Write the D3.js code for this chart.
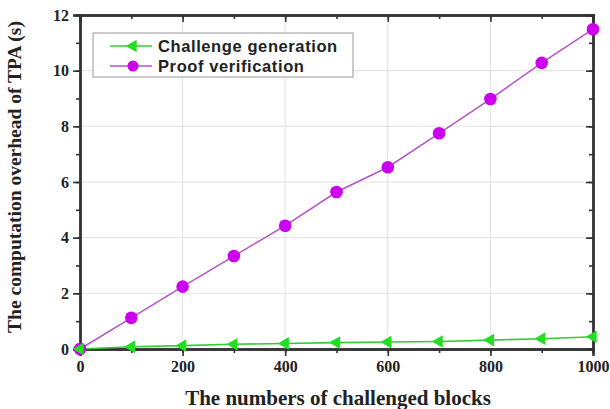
<!DOCTYPE html>
<html>
<head>
<meta charset="utf-8">
<script src="https://cdn.jsdelivr.net/npm/d3@7"></script>
<style>
  html, body { margin: 0; padding: 0; background: #fff; }
  svg { display: block; }
</style>
</head>
<body>
<svg id="chart" width="610" height="409"></svg>
<script>
// Challenged block counts (x) and TPA computation time in seconds (y)
const blocks = [0, 100, 200, 300, 400, 500, 600, 700, 800, 900, 1000];
const challengeGen = [0, 0.08, 0.12, 0.17, 0.20, 0.23, 0.25, 0.27, 0.32, 0.37, 0.44];
const proofVerify = [0, 1.12, 2.24, 3.34, 4.43, 5.64, 6.53, 7.75, 8.98, 10.28, 11.49];
const xTicks = [0, 200, 400, 600, 800, 1000];
const yTicks = [0, 2, 4, 6, 8, 10, 12];
const seriesNames = ["Challenge generation", "Proof verification"];

const svg = d3.select("#chart");
const plotL = 80, plotR = 593, plotT = 15, plotB = 349;

const x = d3.scaleLinear().domain([0, 1000]).range([plotL, plotR]);
const y = d3.scaleLinear().domain([0, 12]).range([plotB, plotT]);

const serif = "'Liberation Serif', 'Times New Roman', serif";
const sans = "'Liberation Sans', Arial, sans-serif";

// grid lines at major ticks
const grid = svg.append("g").attr("stroke", "#e2e2e2").attr("stroke-width", 1);
xTicks.slice(1, -1).forEach(v => grid.append("line")
  .attr("x1", x(v)).attr("x2", x(v)).attr("y1", plotT).attr("y2", plotB));
yTicks.slice(1, -1).forEach(v => grid.append("line")
  .attr("x1", plotL).attr("x2", plotR).attr("y1", y(v)).attr("y2", y(v)));

// axes: bottom/left ticks outside, top/right ticks inside
const minorX = d3.range(0, 1001, 100);
const minorY = d3.range(0, 13, 1);
const axisColor = "#333";

function styleAxis(g) {
  g.select(".domain").attr("stroke", axisColor).attr("stroke-width", 2.4);
  g.selectAll(".tick line").attr("stroke", axisColor).attr("stroke-width", 1.6);
  g.selectAll("text").attr("font-family", serif).attr("font-weight", "bold")
    .attr("font-size", 16).attr("fill", "#222");
}

// minor ticks
const gxMinor = svg.append("g").attr("transform", `translate(0,${plotB})`)
  .call(d3.axisBottom(x).tickValues(minorX).tickSize(4).tickFormat(""));
styleAxis(gxMinor);
const gyMinor = svg.append("g").attr("transform", `translate(${plotL},0)`)
  .call(d3.axisLeft(y).tickValues(minorY).tickSize(4).tickFormat(""));
styleAxis(gyMinor);
const gtMinor = svg.append("g").attr("transform", `translate(0,${plotT})`)
  .call(d3.axisBottom(x).tickValues(minorX).tickSize(4).tickFormat(""));
styleAxis(gtMinor);
const grMinor = svg.append("g").attr("transform", `translate(${plotR},0)`)
  .call(d3.axisLeft(y).tickValues(minorY).tickSize(4).tickFormat(""));
styleAxis(grMinor);

// major ticks with labels
const gx = svg.append("g").attr("transform", `translate(0,${plotB})`)
  .call(d3.axisBottom(x).tickValues(xTicks).tickSize(7).tickPadding(5).tickFormat(d3.format("d")));
styleAxis(gx);
const gy = svg.append("g").attr("transform", `translate(${plotL},0)`)
  .call(d3.axisLeft(y).tickValues(yTicks).tickSize(7).tickPadding(4).tickFormat(d3.format("d")));
styleAxis(gy);
const gt = svg.append("g").attr("transform", `translate(0,${plotT})`)
  .call(d3.axisBottom(x).tickValues(xTicks).tickSize(7).tickFormat(""));
styleAxis(gt);
const gr = svg.append("g").attr("transform", `translate(${plotR},0)`)
  .call(d3.axisLeft(y).tickValues(yTicks).tickSize(7).tickFormat(""));
styleAxis(gr);

// series
const lineGen = d3.line().x((d, i) => x(blocks[i])).y(d => y(d));
const green = "#22dd22", greenLine = "#33cc33";
const purple = "#cc00ee", purpleLine = "#b455c8";

svg.append("path").datum(proofVerify).attr("d", lineGen)
  .attr("fill", "none").attr("stroke", purpleLine).attr("stroke-width", 1.5);
svg.append("path").datum(challengeGen).attr("d", lineGen)
  .attr("fill", "none").attr("stroke", greenLine).attr("stroke-width", 1.6);

const triLeft = d3.symbol().type(d3.symbolTriangle).size(70);

svg.append("g").selectAll("circle").data(proofVerify).join("circle")
  .attr("cx", (d, i) => x(blocks[i])).attr("cy", d => y(d))
  .attr("r", 6.3).attr("fill", purple);

svg.append("g").selectAll("path").data(challengeGen).join("path")
  .attr("d", triLeft)
  .attr("transform", (d, i) => `translate(${x(blocks[i])},${y(d)}) rotate(-90)`)
  .attr("fill", green);

// legend
const legend = svg.append("g");
legend.append("rect").attr("x", 93).attr("y", 33).attr("width", 260).attr("height", 44)
  .attr("fill", "#fff").attr("stroke", "#999").attr("stroke-width", 1);
const rows = [
  { name: seriesNames[0], color: greenLine, fill: green, marker: "tri", yy: 46 },
  { name: seriesNames[1], color: purpleLine, fill: purple, marker: "circ", yy: 66 }
];
rows.forEach(r => {
  legend.append("line").attr("x1", 110).attr("x2", 152).attr("y1", r.yy).attr("y2", r.yy)
    .attr("stroke", r.color).attr("stroke-width", 1.5);
  if (r.marker === "tri") {
    legend.append("path").attr("d", triLeft)
      .attr("transform", `translate(133,${r.yy}) rotate(-90)`).attr("fill", r.fill);
  } else {
    legend.append("circle").attr("cx", 133).attr("cy", r.yy).attr("r", 5.5).attr("fill", r.fill);
  }
  legend.append("text").attr("x", 158).attr("y", r.yy + 6)
    .attr("font-family", sans).attr("font-weight", "bold").attr("font-size", 16.5)
    .attr("letter-spacing", 0.6).attr("fill", "#222").text(r.name);
});

// axis titles
svg.append("text").attr("x", 338).attr("y", 405)
  .attr("text-anchor", "middle").attr("font-family", serif).attr("font-weight", "bold")
  .attr("font-size", 21).attr("fill", "#222").text("The numbers of challenged blocks");
svg.append("text").attr("transform", `translate(21,177) rotate(-90)`)
  .attr("text-anchor", "middle").attr("font-family", serif).attr("font-weight", "bold")
  .attr("font-size", 19.5).attr("fill", "#222").text("The computation overhead of TPA (s)");
</script>
</body>
</html>
